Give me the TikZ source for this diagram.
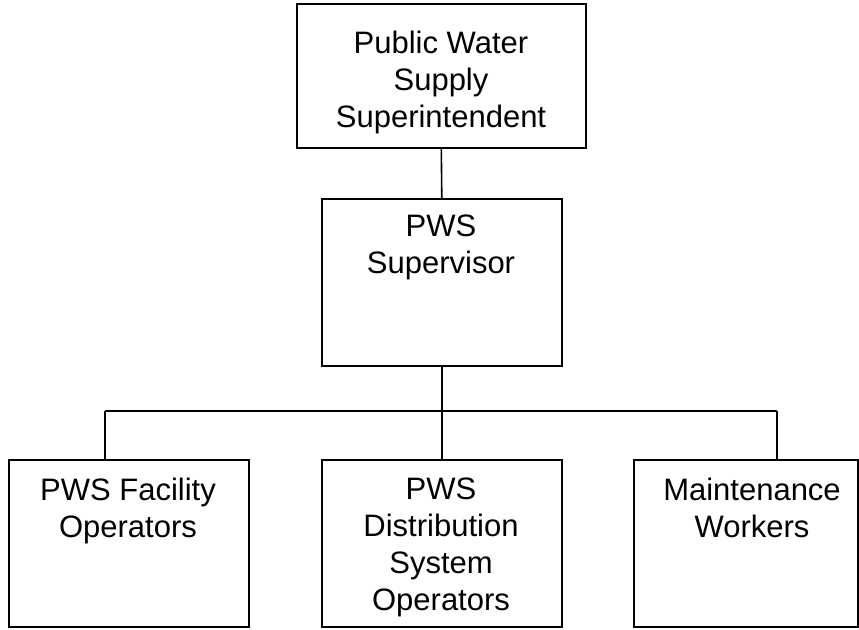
\documentclass[tikz,border=0pt]{standalone}
\usepackage{fontspec}
\setmainfont{Liberation Sans}
\begin{document}
\begin{tikzpicture}[x=1pt,y=-1pt,
  orgbox/.style={draw=black,line width=1.6pt,fill=white,inner sep=0pt,anchor=north west},
  orgtext/.style={anchor=north,inner sep=0pt,align=center,font=\fontsize{31}{37}\selectfont},
  link/.style={line width=1.6pt,draw=black}]
\useasboundingbox (0,0) rectangle (859,629);
% boxes
\node[orgbox,minimum width=289pt,minimum height=144pt] (top) at (296,3) {};
\node[orgbox,minimum width=240pt,minimum height=167pt] (mid) at (321,198) {};
\node[orgbox,minimum width=240pt,minimum height=167pt] (bl) at (8,459) {};
\node[orgbox,minimum width=240pt,minimum height=167pt] (bm) at (321,459) {};
\node[orgbox,minimum width=224pt,minimum height=167pt] (br) at (633,459) {};
% texts
\node[orgtext] (topT) at (441,31) {Public Water\\Supply\\Superintendent};
\node[orgtext] (midT) at (441,215) {PWS\\Supervisor};
\node[orgtext] (blT) at (128,478) {PWS Facility\\Operators};
\node[orgtext] (bmT) at (441,478) {PWS\\Distribution\\System\\Operators};
\node[orgtext] (brT) at (752,478) {Maintenance\\Workers};
% connectors
\coordinate (jl) at (105,411);
\coordinate (jr) at (777,411);
\draw[link] (top.south) -- (mid.north);
\draw[link] (mid.south) -- (bm.north);
\draw[link] (jl) -- (jr);
\draw[link] (jl) -- (jl |- bl.north);
\draw[link] (jr) -- (jr |- br.north);
\end{tikzpicture}
\end{document}
